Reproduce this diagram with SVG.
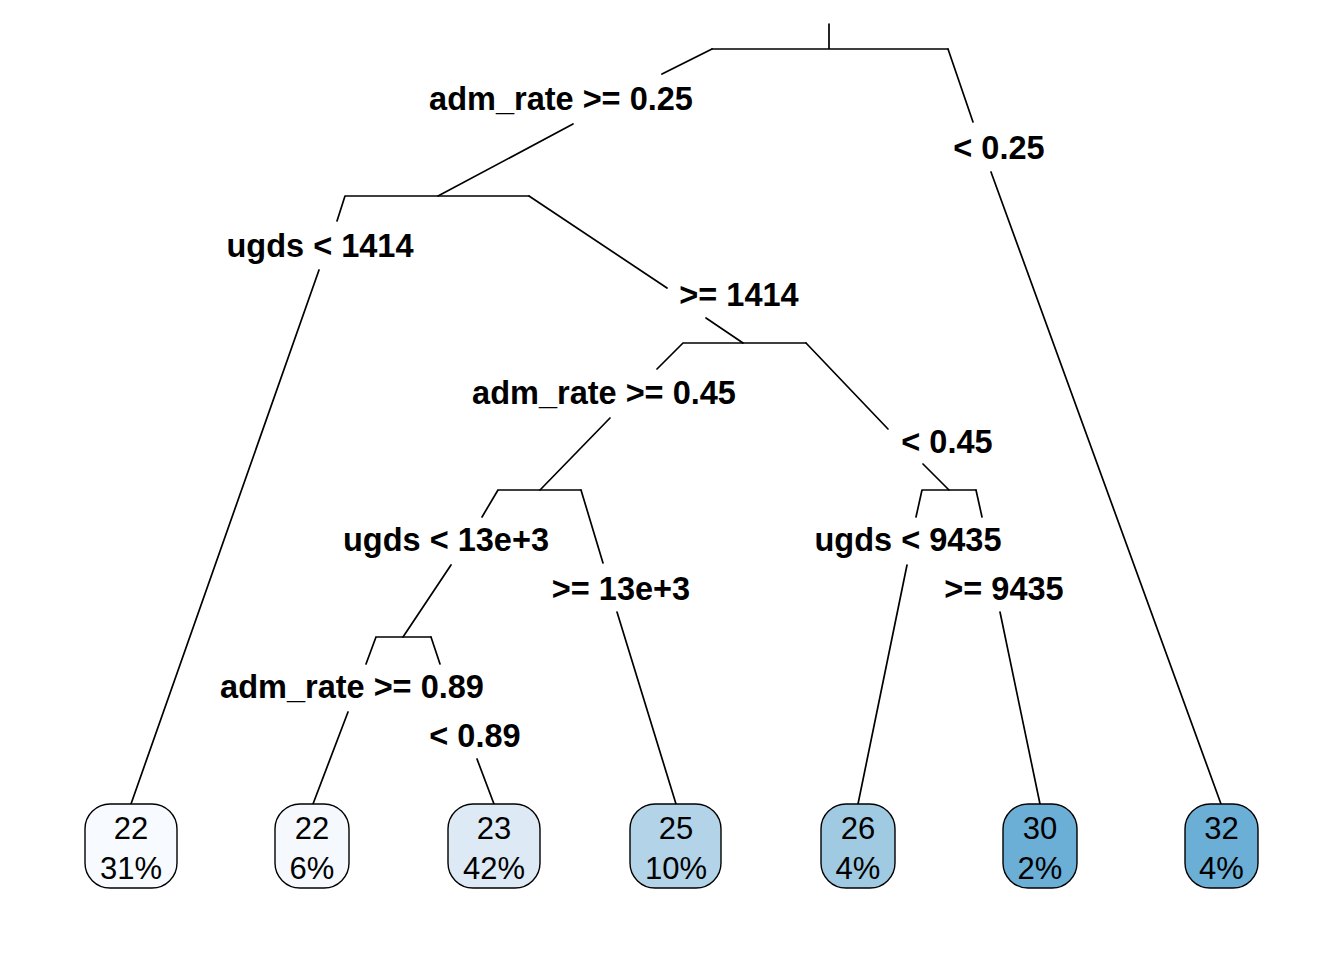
<svg xmlns="http://www.w3.org/2000/svg" width="1344" height="960" viewBox="0 0 1344 960">
<style>
.c{fill:none;stroke:#000;stroke-width:1.7;stroke-linecap:round}
.lab{font-family:"Liberation Sans",Arial,sans-serif;font-weight:bold;font-size:32.5px;text-anchor:middle;fill:#000}
.box{stroke:#000;stroke-width:1.4}
.lt{font-family:"Liberation Sans",Arial,sans-serif;font-size:31px;text-anchor:middle;fill:#000}
</style>
<rect width="1344" height="960" fill="#fff"/>
<g id="connectors">
<path class="c" d="M829,24 V49 M712,49 H948"/>
<path class="c" d="M712,49 L662,74 M573,124 L438,196"/>
<path class="c" d="M948,49 L973,122 M991,172 L1221,804"/>
<path class="c" d="M345,196 H529 M345,196 L337,221 M319,270 L131,804"/>
<path class="c" d="M529,196 L667,288 M706,318 L743,343"/>
<path class="c" d="M683,343 H806 M683,343 L657,369 M610,418 L540,490"/>
<path class="c" d="M806,343 L888,429 M923,464 L949,490"/>
<path class="c" d="M498,490 H581 M498,490 L482,517 M451,565 L403,637"/>
<path class="c" d="M581,490 L603,563 M617,612 L676,804"/>
<path class="c" d="M922,490 H976 M922,490 L916,517 M907,565 L858,804"/>
<path class="c" d="M976,490 L982,517 M1000,612 L1040,804"/>
<path class="c" d="M376,637 H431 M376,637 L366,664 M348,712 L313,804"/>
<path class="c" d="M431,637 L440,664 M477,759 L494,804"/>
</g>
<g id="labels">
<text class="lab" x="561" y="109.5">adm_rate &gt;= 0.25</text>
<text class="lab" x="999" y="158.5">&lt; 0.25</text>
<text class="lab" x="320" y="256.5">ugds &lt; 1414</text>
<text class="lab" x="739" y="305.5">&gt;= 1414</text>
<text class="lab" x="604" y="403.5">adm_rate &gt;= 0.45</text>
<text class="lab" x="947" y="452.5">&lt; 0.45</text>
<text class="lab" x="446" y="550.5">ugds &lt; 13e+3</text>
<text class="lab" x="621" y="599.5">&gt;= 13e+3</text>
<text class="lab" x="908" y="550.5">ugds &lt; 9435</text>
<text class="lab" x="1004" y="599.5">&gt;= 9435</text>
<text class="lab" x="352" y="697.5">adm_rate &gt;= 0.89</text>
<text class="lab" x="475" y="746.5">&lt; 0.89</text>
</g>
<g id="leaf1"><rect class="box" x="85" y="804" width="92" height="84" rx="25" ry="25" fill="#F7FBFF"/><text class="lt" x="131" y="839">22</text><text class="lt" x="131" y="879">31%</text></g>
<g id="leaf2"><rect class="box" x="275" y="804" width="74" height="84" rx="25" ry="25" fill="#F5F9FE"/><text class="lt" x="312" y="839">22</text><text class="lt" x="312" y="879">6%</text></g>
<g id="leaf3"><rect class="box" x="448" y="804" width="92" height="84" rx="25" ry="25" fill="#DDEAF6"/><text class="lt" x="494" y="839">23</text><text class="lt" x="494" y="879">42%</text></g>
<g id="leaf4"><rect class="box" x="630" y="804" width="91" height="84" rx="25" ry="25" fill="#B3D3E8"/><text class="lt" x="676" y="839">25</text><text class="lt" x="676" y="879">10%</text></g>
<g id="leaf5"><rect class="box" x="821" y="804" width="74" height="84" rx="25" ry="25" fill="#9FCAE1"/><text class="lt" x="858" y="839">26</text><text class="lt" x="858" y="879">4%</text></g>
<g id="leaf6"><rect class="box" x="1003" y="804" width="74" height="84" rx="25" ry="25" fill="#6BAED6"/><text class="lt" x="1040" y="839">30</text><text class="lt" x="1040" y="879">2%</text></g>
<g id="leaf7"><rect class="box" x="1185" y="804" width="73" height="84" rx="25" ry="25" fill="#6BAED6"/><text class="lt" x="1221.5" y="839">32</text><text class="lt" x="1221.5" y="879">4%</text></g>
</svg>
